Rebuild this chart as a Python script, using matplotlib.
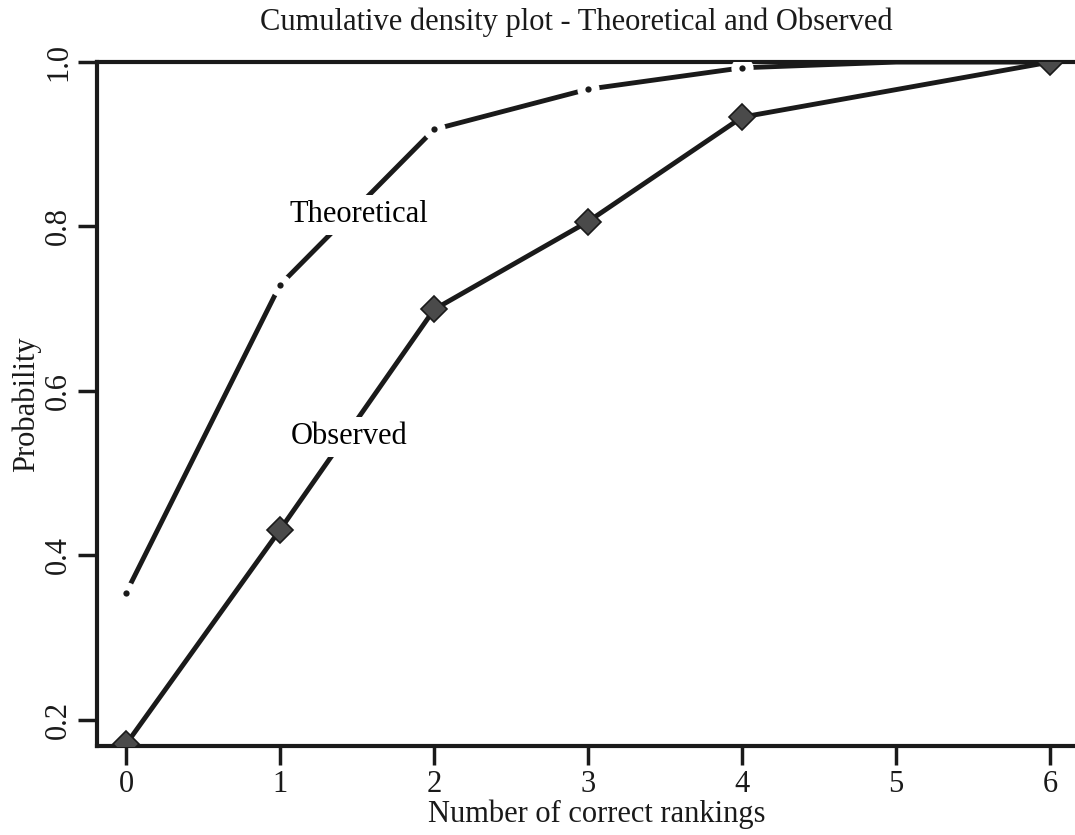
import numpy as np
import matplotlib
matplotlib.use("Agg")
import matplotlib.pyplot as plt

plt.rcParams['font.family'] = ['Liberation Serif', 'DejaVu Serif']

# values
theo_x = [0, 1, 2, 3, 4, 5, 6]
theo_y = [0.354, 0.729, 0.918, 0.967, 0.993, 1.0, 1.0]
obs_x = [0, 1, 2, 3, 4, 6]
obs_y = [0.170, 0.431, 0.699, 0.806, 0.933, 1.0]
x_ticks = [0, 1, 2, 3, 4, 5, 6]
y_ticks = [0.2, 0.4, 0.6, 0.8, 1.0]

fig = plt.figure(figsize=(10.75, 8.35), dpi=100)
ax = fig.add_axes([0.090, 0.1066, 0.93, 0.8191])

ink = '#1a1a1a'

# theoretical: line broken round small dots (R type="b" look)
ax.plot(theo_x, theo_y, color=ink, lw=3.5, solid_capstyle='butt', zorder=2)
ax.plot(theo_x[:5], theo_y[:5], 'o', color='white', ms=16, mec='none', zorder=3)
ax.plot(theo_x[:5], theo_y[:5], 'o', color=ink, ms=4.5, mec='none', zorder=4)

# observed: line with hatched grey diamonds
ax.plot(obs_x, obs_y, color=ink, lw=3.5, zorder=2)
ax.plot(obs_x, obs_y, 'D', color='#4a4a4a', mec=ink, mew=1.2, ms=13, zorder=5)

box = dict(facecolor='white', edgecolor='none', pad=4)
ax.text(1.51, 0.814, 'Theoretical', fontsize=22, ha='center', va='center',
        bbox=box, zorder=6)
ax.text(1.45, 0.544, 'Observed', fontsize=22, ha='center', va='center',
        bbox=box, zorder=6)

ax.set_xlim(-0.19, 6.3)
ax.set_ylim(0.168, 1.0)
ax.set_xticks(x_ticks)
ax.set_yticks(y_ticks)
ax.set_yticklabels(['0.2', '0.4', '0.6', '0.8', '1.0'], rotation=90, va='center')
ax.tick_params(direction='out', length=14, width=2.5, labelsize=22, pad=3,
               color=ink, labelcolor=ink)

for side in ['left', 'bottom', 'top']:
    ax.spines[side].set_linewidth(3)
    ax.spines[side].set_color(ink)
ax.spines['right'].set_visible(False)

ax.set_title('Cumulative density plot - Theoretical and Observed',
             fontsize=22, pad=23, color=ink, x=0.48)
ax.set_xlabel('Number of correct rankings', fontsize=22, color=ink, labelpad=1)
ax.set_ylabel('Probability', fontsize=22, color=ink, labelpad=2)

fig.savefig('out.png', dpi=100)
